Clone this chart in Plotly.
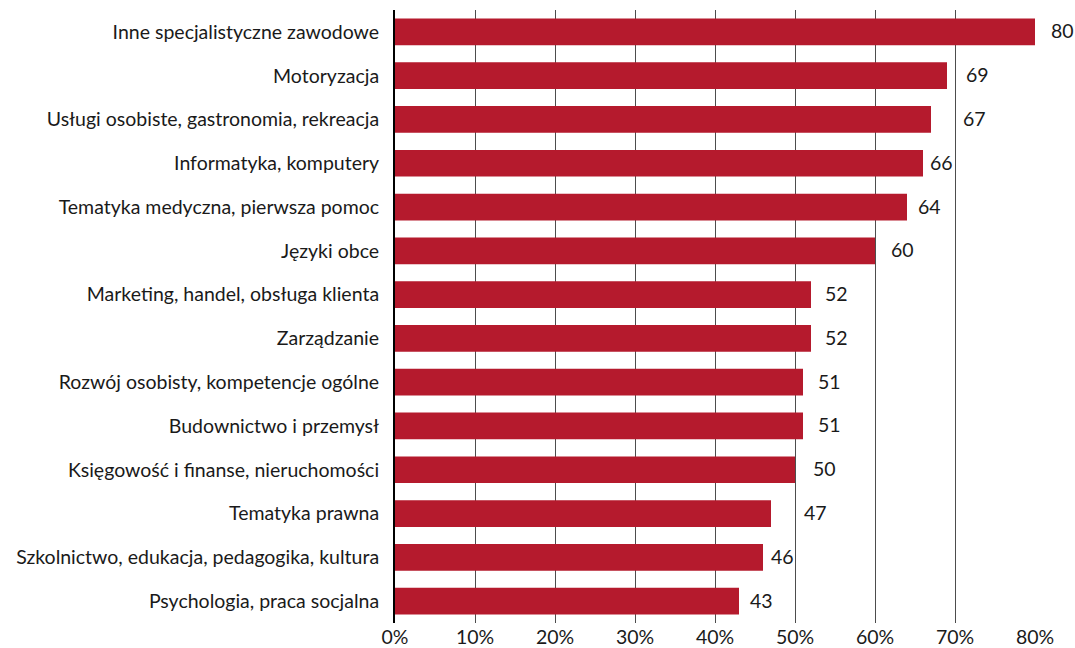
import plotly.graph_objects as go

categories = [
    "Inne specjalistyczne zawodowe",
    "Motoryzacja",
    "Usługi osobiste, gastronomia, rekreacja",
    "Informatyka, komputery",
    "Tematyka medyczna, pierwsza pomoc",
    "Języki obce",
    "Marketing, handel, obsługa klienta",
    "Zarządzanie",
    "Rozwój osobisty, kompetencje ogólne",
    "Budownictwo i przemysł",
    "Księgowość i finanse, nieruchomości",
    "Tematyka prawna",
    "Szkolnictwo, edukacja, pedagogika, kultura",
    "Psychologia, praca socjalna",
]
values = [80, 69, 67, 66, 64, 60, 52, 52, 51, 51, 50, 47, 46, 43]
tick_vals = [0, 10, 20, 30, 40, 50, 60, 70, 80]
tick_text = ["0%", "10%", "20%", "30%", "40%", "50%", "60%", "70%", "80%"]

# label gap (px) between bar end and value label, as in the original layout
label_gap = [14, 17, 30, 5, 9, 14, 12, 12, 13, 13, 16, 31, 6, 9]

FONT = "Lato"
FS = 19.5
BAR = "#B51A2D"
TXT = "#1a1a1a"

fig = go.Figure()
fig.add_trace(go.Bar(
    x=values, y=categories, orientation="h",
    marker=dict(color=BAR, line=dict(width=0)),
    hoverinfo="skip",
))

for v, c, g in zip(values, categories, label_gap):
    fig.add_annotation(x=v, y=c, text=str(v), showarrow=False,
                       xanchor="left", xshift=g, yshift=1,
                       font=dict(family=FONT, size=FS, color=TXT))

fig.update_layout(
    width=1075, height=648,
    margin=dict(l=395, r=40, t=10, b=25, autoexpand=False),
    paper_bgcolor="white", plot_bgcolor="white",
    bargap=0.39,
    showlegend=False,
    font=dict(family=FONT, size=FS, color=TXT),
)
fig.update_xaxes(
    range=[0, 80], tickvals=tick_vals, ticktext=tick_text,
    showgrid=True, gridcolor="#4d4d4d", gridwidth=1,
    zeroline=False, showline=False, ticks="", automargin=False,
    ticklabelstandoff=0,
    tickfont=dict(family=FONT, size=FS, color=TXT),
)
fig.update_yaxes(
    autorange="reversed", showgrid=False, zeroline=False,
    showline=True, linecolor="#000000", linewidth=2,
    ticks="", ticklabelstandoff=10, automargin=False,
    tickfont=dict(family=FONT, size=FS, color=TXT),
)

fig.write_html("out.html", config={"displayModeBar": False},
               post_script="document.body.style.margin='0';")
